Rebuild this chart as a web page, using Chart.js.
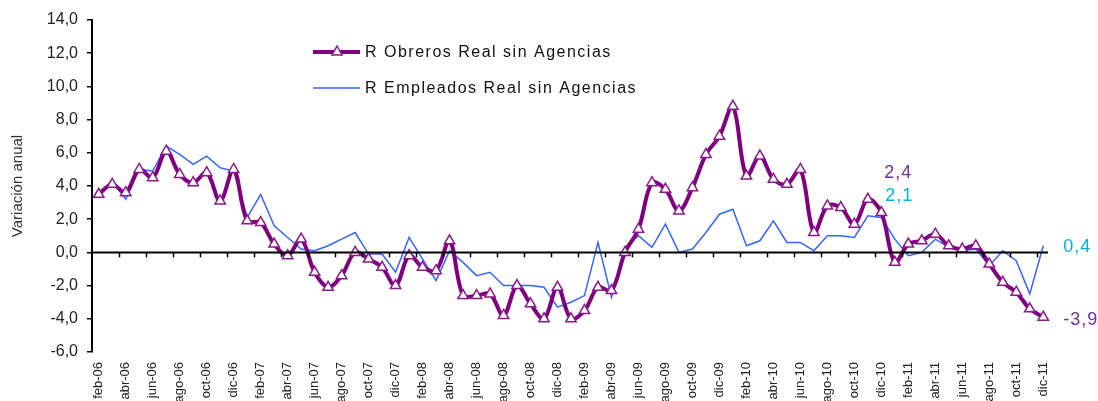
<!DOCTYPE html>
<html>
<head>
<meta charset="utf-8">
<script src="https://cdn.jsdelivr.net/npm/chart.js@4.4.1/dist/chart.umd.min.js"></script>
<style>
    html, body { margin: 0; padding: 0; background: #fff; }
    #wrap { width: 1098px; height: 401px; position: relative; }
</style>
</head>
<body>
<div id="wrap"><canvas id="grafico"></canvas></div>
<script>
const meses = [
    'feb-06', 'mar-06', 'abr-06', 'may-06', 'jun-06', 'jul-06', 'ago-06', 'sep-06', 'oct-06', 'nov-06', 'dic-06',
    'ene-07', 'feb-07', 'mar-07', 'abr-07', 'may-07', 'jun-07', 'jul-07', 'ago-07', 'sep-07', 'oct-07', 'nov-07', 'dic-07',
    'ene-08', 'feb-08', 'mar-08', 'abr-08', 'may-08', 'jun-08', 'jul-08', 'ago-08', 'sep-08', 'oct-08', 'nov-08', 'dic-08',
    'ene-09', 'feb-09', 'mar-09', 'abr-09', 'may-09', 'jun-09', 'jul-09', 'ago-09', 'sep-09', 'oct-09', 'nov-09', 'dic-09',
    'ene-10', 'feb-10', 'mar-10', 'abr-10', 'may-10', 'jun-10', 'jul-10', 'ago-10', 'sep-10', 'oct-10', 'nov-10', 'dic-10',
    'ene-11', 'feb-11', 'mar-11', 'abr-11', 'may-11', 'jun-11', 'jul-11', 'ago-11', 'sep-11', 'oct-11', 'nov-11', 'dic-11'
];

const obreros = [
    3.5, 4.1, 3.6, 5.0, 4.5, 6.1, 4.7, 4.2, 4.8, 3.1, 5.0,
    1.9, 1.8, 0.5, -0.2, 0.8, -1.2, -2.1, -1.4, 0.0, -0.4, -0.9, -2.0,
    -0.2, -0.9, -1.1, 0.7, -2.6, -2.6, -2.5, -3.8, -2.0, -3.1, -4.0, -2.1,
    -4.0, -3.5, -2.1, -2.3, 0.0, 1.4, 4.2, 3.8, 2.5, 3.9, 5.9, 7.0,
    8.8, 4.6, 5.8, 4.4, 4.1, 5.0, 1.2, 2.8, 2.7, 1.7, 3.2, 2.4,
    -0.6, 0.5, 0.7, 1.1, 0.4, 0.2, 0.4, -0.7, -1.8, -2.4, -3.4, -3.9
];

const empleados = [
    3.6, 4.3, 3.2, 5.0, 4.9, 6.4, 5.9, 5.3, 5.8, 5.1, 4.9,
    2.1, 3.5, 1.6, 0.9, 0.2, 0.1, 0.4, 0.8, 1.2, -0.1, -0.1, -1.2,
    0.9, -0.4, -1.7, 0.1, -0.6, -1.4, -1.2, -2.0, -2.0, -2.0, -2.1, -3.3,
    -3.0, -2.6, 0.6, -2.7, 0.3, 1.0, 0.3, 1.7, 0.0, 0.2, 1.2, 2.3,
    2.6, 0.4, 0.7, 1.9, 0.6, 0.6, 0.1, 1.0, 1.0, 0.9, 2.2, 2.1,
    0.8, -0.2, 0.0, 0.8, 0.3, 0.1, 0.2, -0.8, 0.1, -0.5, -2.5, 0.4
];

const nombresSeries = ['R Obreros Real sin Agencias', 'R Empleados Real sin Agencias'];
const coloresSeries = ['#800080', '#3366ff'];
const coloresEtiquetas = ['#7030a0', '#00b0f0'];
const mesesEtiquetados = ['dic-10', 'dic-11'];

function coma(v, dec) {
    return Number(v).toFixed(dec).replace('.', ',');
}

// marcas del eje X sobre la linea del cero, leyenda y etiquetas de datos
const extras = {
    id: 'extras',
    afterDatasetsDraw(chart) {
        const ctx = chart.ctx;
        const x = chart.scales.x;
        const y = chart.scales.y;
        const y0 = y.getPixelForValue(0);
        const half = (x.getPixelForValue(1) - x.getPixelForValue(0)) / 2;

        ctx.save();
        ctx.strokeStyle = '#000';
        ctx.lineWidth = 2;
        ctx.beginPath();
        ctx.moveTo(chart.chartArea.left, y0);
        ctx.lineTo(chart.chartArea.right - 2, y0);
        ctx.stroke();
        ctx.lineWidth = 1.5;
        for (let i = 2; i < meses.length; i += 2) {
            const px = Math.round(x.getPixelForValue(i) - half) + 0.5;
            ctx.beginPath();
            ctx.moveTo(px, y0);
            ctx.lineTo(px, y0 + 5);
            ctx.stroke();
        }

        // etiquetas de datos
        ctx.font = '18px "Liberation Sans", Arial, sans-serif';
        ctx.letterSpacing = '1px';
        ctx.textBaseline = 'middle';
        ctx.textAlign = 'center';
        const m0 = chart.getDatasetMeta(0).data;
        const m1 = chart.getDatasetMeta(1).data;
        const a = meses.indexOf(mesesEtiquetados[0]);
        const b = meses.indexOf(mesesEtiquetados[1]);
        ctx.fillStyle = coloresEtiquetas[0];
        ctx.fillText(coma(obreros[a], 1), m0[a].x + 17, m0[a].y - 40);
        ctx.fillStyle = coloresEtiquetas[1];
        ctx.fillText(coma(empleados[a], 1), m1[a].x + 18, m1[a].y - 22);
        ctx.textAlign = 'left';
        ctx.fillText(coma(empleados[b], 1), m1[b].x + 20, m1[b].y + 1);
        ctx.fillStyle = coloresEtiquetas[0];
        ctx.fillText(coma(obreros[b], 1), m0[b].x + 20, m0[b].y + 3);

        // leyenda
        ctx.font = '16px "Liberation Sans", Arial, sans-serif';
        ctx.letterSpacing = '1.5px';
        ctx.fillStyle = '#111';
        const filas = [52, 88];
        filas.forEach(function (fy, k) {
            ctx.strokeStyle = coloresSeries[k];
            ctx.lineWidth = k === 0 ? 4 : 1.5;
            ctx.beginPath();
            ctx.moveTo(313, fy);
            ctx.lineTo(360, fy);
            ctx.stroke();
            if (k === 0) {
                ctx.lineWidth = 1.5;
                ctx.strokeStyle = '#8b1a8b';
                ctx.fillStyle = '#fff';
                ctx.beginPath();
                ctx.moveTo(337, fy - 6);
                ctx.lineTo(342, fy + 3);
                ctx.lineTo(332, fy + 3);
                ctx.closePath();
                ctx.fill();
                ctx.stroke();
                ctx.fillStyle = '#111';
            }
            ctx.fillText(nombresSeries[k], 365, fy + 1);
        });
        ctx.restore();
    }
};

new Chart(document.getElementById('grafico'), {
    type: 'line',
    data: {
        labels: meses,
        datasets: [
            {
                label: nombresSeries[0],
                data: obreros,
                borderColor: coloresSeries[0],
                backgroundColor: '#ffffff',
                borderWidth: 4,
                tension: 0.35,
                pointStyle: 'triangle',
                pointRadius: 6,
                pointBorderWidth: 1.5,
                pointBorderColor: '#8b1a8b',
                pointBackgroundColor: '#ffffff',
                fill: false
            },
            {
                label: nombresSeries[1],
                data: empleados,
                borderColor: coloresSeries[1],
                borderWidth: 1.5,
                tension: 0,
                pointRadius: 0,
                fill: false
            }
        ]
    },
    options: {
        responsive: true,
        maintainAspectRatio: false,
        animation: false,
        layout: {
            padding: { top: 20, right: 48, bottom: 0, left: 0 }
        },
        plugins: {
            legend: { display: false },
            tooltip: { enabled: false }
        },
        scales: {
            x: {
                offset: true,
                grid: { display: false, drawTicks: false },
                border: { display: false },
                afterFit: function (scale) { scale.height = 49; },
                ticks: {
                    autoSkip: false,
                    minRotation: 90,
                    maxRotation: 90,
                    padding: 10,
                    color: '#222',
                    font: { family: '"Liberation Sans Narrow", "Arial Narrow", "Liberation Sans", sans-serif', size: 13 },
                    callback: function (value, index) {
                        return index % 2 === 0 ? meses[index] : '';
                    }
                }
            },
            y: {
                min: -6,
                max: 14,
                afterFit: function (scale) { scale.width = 92; },
                border: { display: true, color: '#000', width: 2 },
                grid: {
                    color: 'rgba(0,0,0,0)',
                    tickColor: '#000',
                    tickLength: 5,
                    lineWidth: 1.5
                },
                ticks: {
                    stepSize: 2,
                    padding: 9,
                    color: '#222',
                    font: { family: '"Liberation Sans", Arial, sans-serif', size: 16 },
                    callback: function (value) { return coma(value, 1); }
                },
                title: {
                    display: true,
                    text: 'Variación anual',
                    color: '#333',
                    padding: { top: 9, bottom: 0 },
                    font: { family: '"Liberation Sans Narrow", "Arial Narrow", "Liberation Sans", sans-serif', size: 15 }
                }
            }
        }
    },
    plugins: [extras]
});
</script>
</body>
</html>
